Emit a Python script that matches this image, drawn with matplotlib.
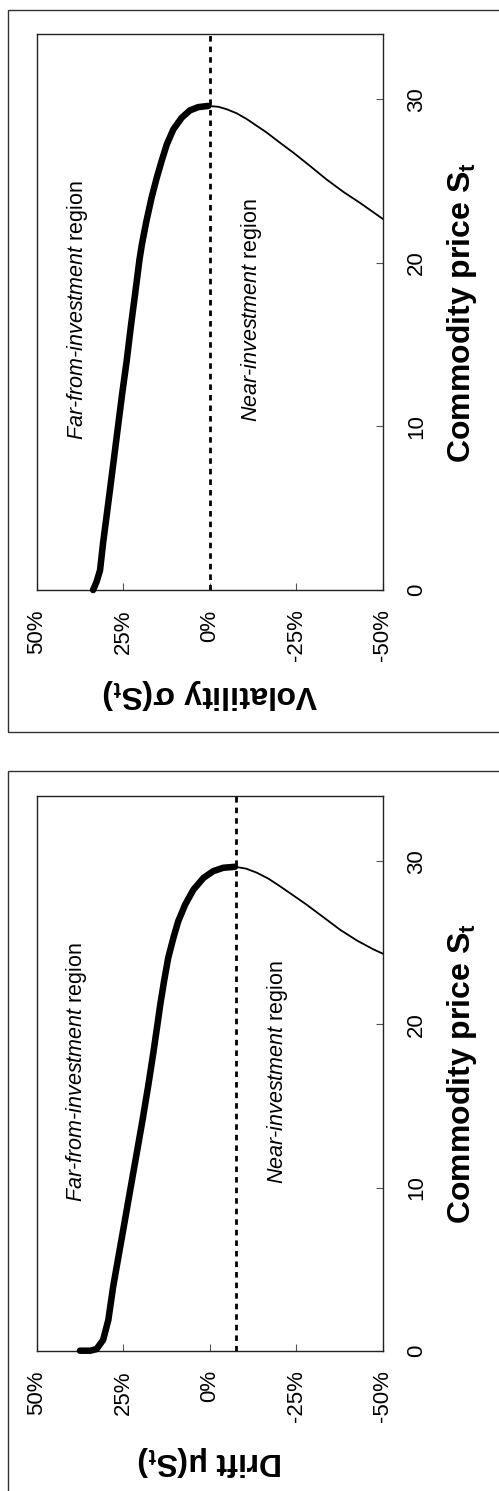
import matplotlib
matplotlib.use("Agg")
import matplotlib.pyplot as plt
from matplotlib.patches import Rectangle
from matplotlib.ticker import FuncFormatter

plt.rcParams['font.family'] = ['Liberation Sans', 'DejaVu Sans']
plt.rcParams['mathtext.fontset'] = 'custom'
plt.rcParams['mathtext.rm'] = 'Liberation Sans'
plt.rcParams['mathtext.it'] = 'Liberation Sans:italic'
plt.rcParams['mathtext.bf'] = 'Liberation Sans:bold'

# --- data (value as fraction, commodity price S) ---
# volatility panel
vol_thick_val = [0.337, 0.327, 0.317, 0.308, 0.300, 0.289, 0.277, 0.265, 0.253,
                 0.240, 0.228, 0.215, 0.203, 0.196, 0.183, 0.168, 0.153, 0.139,
                 0.124, 0.105, 0.081, 0.057, 0.033, 0.004]
vol_thick_S = [0.0, 0.5, 1.2, 2.9, 4.2, 6.0, 8.0, 10.0, 12.0,
               14.0, 16.1, 18.2, 20.2, 21.13, 22.55, 23.99, 25.21, 26.23,
               27.25, 28.17, 28.88, 29.33, 29.53, 29.6]
vol_thin_val = [0.004, -0.025, -0.049, -0.078, -0.107, -0.135, -0.165, -0.200,
                -0.242, -0.290, -0.338, -0.386, -0.434, -0.52]
vol_thin_S = [29.6, 29.55, 29.4, 29.15, 28.8, 28.4, 27.97, 27.4,
              26.74, 25.93, 25.1, 24.35, 23.68, 22.4]
vol_boundary = 0.0

# drift panel
drift_thick_val = [0.375, 0.345, 0.327, 0.308, 0.293, 0.279, 0.262, 0.245, 0.228,
                   0.211, 0.194, 0.178, 0.163, 0.151, 0.143, 0.132, 0.120, 0.105,
                   0.091, 0.071, 0.047, 0.018, -0.010, -0.039, -0.073]
drift_thick_S = [0.0, 0.0, 0.1, 0.66, 1.88, 3.93, 5.97, 8.0, 10.06,
                 12.1, 14.15, 16.2, 18.25, 20.0, 21.2, 22.64, 24.07, 25.3,
                 26.32, 27.34, 28.26, 28.98, 29.39, 29.6, 29.66]
drift_thin_val = [-0.073, -0.105, -0.136, -0.170, -0.203, -0.240, -0.280, -0.328,
                  -0.377, -0.425, -0.473, -0.52]
drift_thin_S = [29.66, 29.55, 29.3, 28.93, 28.47, 27.93, 27.34, 26.58,
                25.8, 25.15, 24.6, 24.15]
drift_boundary = -0.075

value_ticks = [0.5, 0.25, 0.0, -0.25, -0.5]
price_ticks = [0, 10, 20, 30]

W, H = 499, 1491
fig = plt.figure(figsize=(W / 100, H / 100), dpi=100)


def make_panel(rect, thick_v, thick_s, thin_v, thin_s, boundary, label, label_y, far_x):
    ax = fig.add_axes(rect)
    ax.plot(thick_v, thick_s, color='black', lw=4.7, solid_capstyle='round',
            solid_joinstyle='round', clip_on=False, zorder=3)
    ax.plot(thin_v, thin_s, color='black', lw=1.3, zorder=3)
    ax.axvline(boundary, color='black', lw=2.0, linestyle=(0, (2, 1.8)), zorder=4)

    ax.set_xlim(0.5, -0.5)
    ax.set_ylim(0, 34)
    ax.set_xticks(value_ticks)
    ax.xaxis.set_major_formatter(FuncFormatter(lambda v, p: '%d%%' % round(v * 100)))
    ax.set_yticks(price_ticks)
    ax.yaxis.tick_right()
    ax.tick_params(axis='x', direction='in', length=5, width=0.8, color='#555555',
                   labelsize=16, labelrotation=90, pad=14)
    ax.tick_params(axis='y', direction='in', length=5, width=0.8, color='#555555',
                   labelsize=16, labelrotation=90, pad=17, left=False, right=True)
    for t in ax.get_yticklabels():
        t.set_va('center')
    for sp in ax.spines.values():
        sp.set_linewidth(1.0)
        sp.set_color('#222222')

    ax.set_xlabel(label, fontsize=23, fontweight='bold', rotation=180, va='center')
    ax.xaxis.set_label_coords(0.5, label_y)
    ax.yaxis.set_label_position('right')
    ax.set_ylabel(r'Commodity price $\mathbf{S_t}$', fontsize=23, fontweight='bold',
                  rotation=90, va='center', ha='center')
    ax.yaxis.set_label_coords(1.229, 0.5)

    ax.text(far_x, 17.1, r'Far-from-investment $\mathrm{region}$', style='italic',
            fontsize=15.5, rotation=90, ha='center', va='center')
    ax.text(boundary - 0.122, 17.1, r'Near-investment $\mathrm{region}$',
            style='italic', fontsize=15.5, rotation=90, ha='center', va='center')
    return ax


make_panel([36.7 / W, 1 - 590 / H, 346 / W, 556 / H],
           vol_thick_val, vol_thick_S, vol_thin_val, vol_thin_S, vol_boundary,
           r'Volatility σ($\mathbf{S_t}$)', -0.187, 0.382)
make_panel([36.7 / W, 1 - 1350.7 / H, 346 / W, 554.7 / H],
           drift_thick_val, drift_thick_S, drift_thin_val, drift_thin_S, drift_boundary,
           r'Drift μ($\mathbf{S_t}$)', -0.199, 0.386)

# outer panel frames, cut off at the image edge as in the source
fig.add_artist(Rectangle((8 / W, 1 - 732 / H), 1.2, (732 - 10) / H, transform=fig.transFigure,
                         fill=False, lw=1.0, edgecolor='#333333'))
fig.add_artist(Rectangle((8 / W, -0.2), 1.2, 0.2 + 1 - 771 / H, transform=fig.transFigure,
                         fill=False, lw=1.0, edgecolor='#333333'))

fig.savefig('out.png', dpi=100)
